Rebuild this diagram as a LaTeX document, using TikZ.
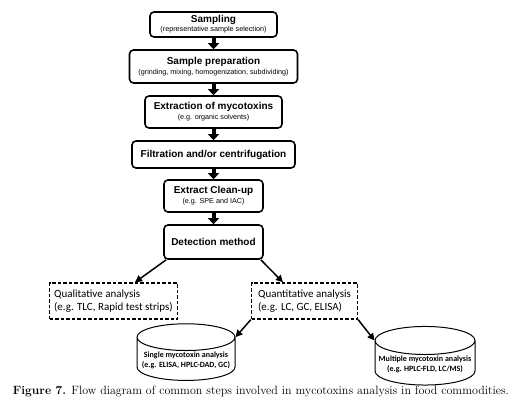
\documentclass[tikz,border=0pt]{standalone}
\usepackage{fontspec}
\newfontfamily\boxfont{Liberation Sans}
\newfontfamily\notefont{Carlito}
\usetikzlibrary{arrows.meta, shapes, positioning}
\newcommand{\boxsub}[1]{{\mdseries\fontsize{7.2}{8}\selectfont #1}}

\begin{document}
\begin{tikzpicture}[node distance=42pt,on grid,
  stepbox/.style={draw, line width=1.6pt, rounded corners=4pt, align=center, inner sep=1pt,
    font=\boxfont\bfseries\fontsize{10}{11}\selectfont},
  dashbox/.style={draw, line width=1.4pt, dash pattern=on 3.5pt off 2pt, align=left,
    minimum height=36pt, font=\notefont\fontsize{11}{13}\selectfont},
  drum/.style={draw, cylinder, shape border rotate=90, aspect=0.3, line width=1pt, align=center,
    inner sep=0.5pt, font=\notefont\bfseries\fontsize{8}{10}\selectfont},
  flow/.style={line width=4pt, -{Triangle[width=11pt,length=6pt]}},
  link/.style={line width=1.5pt, -{Triangle[width=7pt,length=7pt]}}]
\useasboundingbox (0,0) rectangle (517pt,-409pt);

\node[stepbox, minimum width=127pt, minimum height=25pt] (sampling) at (213.5pt,-24.5pt)
  {Sampling\\[-2pt]\boxsub{(representative sample selection)}};
\node[stepbox, minimum width=168pt, minimum height=33pt, below = of sampling] (prep)
  {Sample preparation\\[-1pt]\boxsub{(grinding,\ mixing,\ homogenization,\ subdividing)}};
\node[stepbox, minimum width=137pt, minimum height=32pt, below = 45.5pt of prep] (extract)
  {Extraction of mycotoxins\\[-1pt]\boxsub{(e.g. organic solvents)}};
\node[stepbox, minimum width=163pt, minimum height=27pt, below = 42.5pt of extract] (filter)
  {Filtration and/or centrifugation};
\node[stepbox, minimum width=99pt, minimum height=32pt, below = 41.5pt of filter] (cleanup)
  {Extract Clean-up\\[-1pt]\boxsub{(e.g. SPE and IAC)}};
\node[stepbox, minimum width=99pt, minimum height=34pt, below = 46pt of cleanup] (detect)
  {Detection method};

\node[dashbox, minimum width=128pt, below left = 59pt and 100pt of detect] (qual)
  {Qualitative analysis\\(e.g. TLC, Rapid test strips)};
\node[dashbox, minimum width=106pt, below right = 59pt and 91pt of detect] (quant)
  {Quantitative analysis\\(e.g. LC, GC, ELISA)};

\node[drum, minimum width=98pt, minimum height=46pt, below left = 59pt and 118.5pt of quant] (single)
  {Single mycotoxin analysis\\(e.g. ELISA, HPLC-DAD, GC)};
\node[drum, minimum width=100pt, minimum height=46pt, below right = 63pt and 120.5pt of quant] (multi)
  {Multiple mycotoxin analysis\\(e.g. HPLC-FLD, LC/MS)};

\node[font=\fontsize{12}{14}\selectfont] (caption) at (261pt,-392pt)
  {\textbf{Figure 7.} Flow diagram of common steps involved in mycotoxins analysis in food commodities.};

\draw[flow] (sampling) -- (prep);
\draw[flow] (prep) -- (extract);
\draw[flow] (extract) -- (filter);
\draw[flow] (filter) -- (cleanup);
\draw[flow] (cleanup) -- (detect);

\draw[link] ([xshift=3pt]detect.south west) -- ([xshift=21.5pt]qual.north);
\draw[link] ([xshift=-3pt]detect.south east) -- ([xshift=-21.5pt]quant.north);
\draw[link] (quant.south west) -- (single.after top);
\draw[link] (quant.south east) -- (multi.before top);
\end{tikzpicture}
\end{document}
